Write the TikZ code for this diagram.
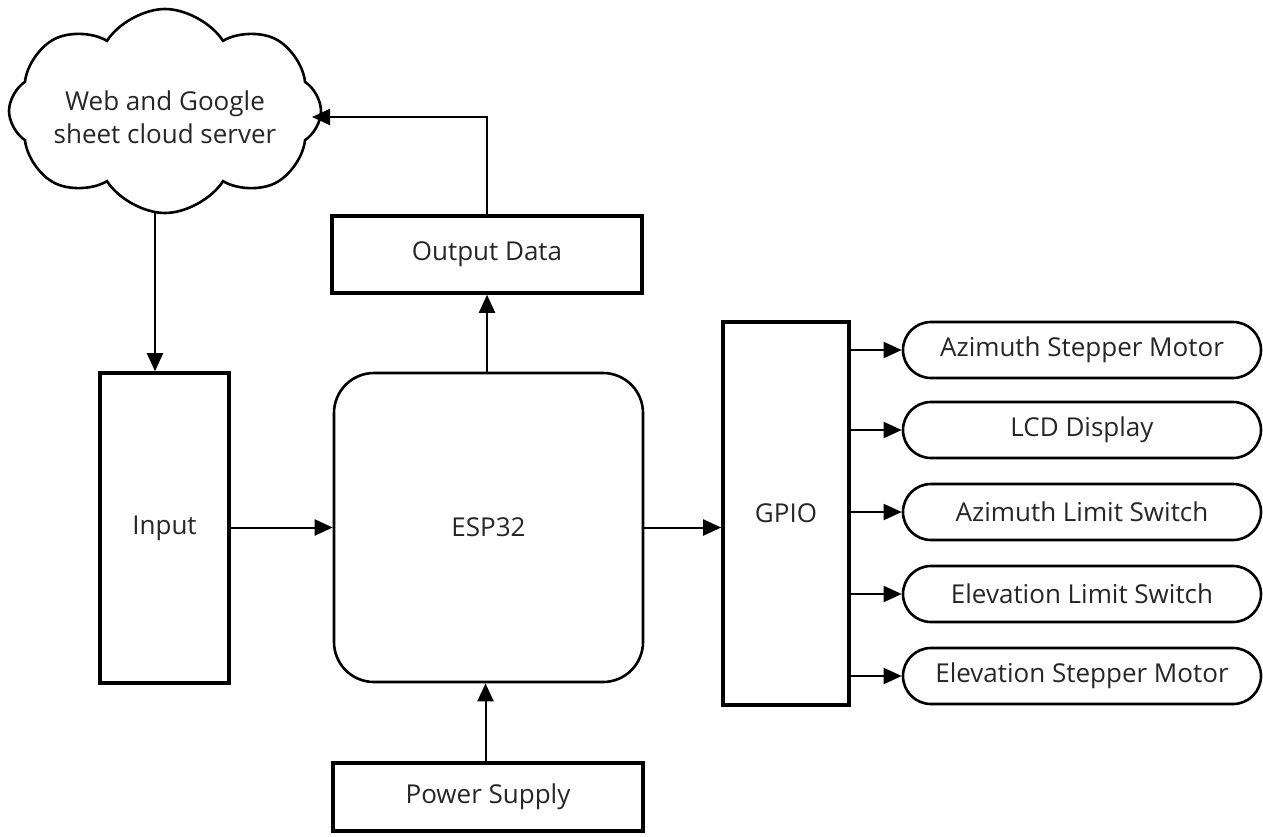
\documentclass[tikz,border=0pt]{standalone}
\usepackage{fontspec}
\setmainfont{Open Sans}
\usetikzlibrary{shapes.symbols,shapes.misc,arrows.meta}
\begin{document}
\begin{tikzpicture}[x=1pt,y=-1pt,
  lbl/.style={font=\fontsize{26}{32}\selectfont, text=black!85},
  sqbox/.style={draw, line width=3.6pt, rectangle, inner sep=0pt, lbl},
  rbox/.style={draw, line width=2.6pt, rectangle, rounded corners=40pt, inner sep=0pt, lbl},
  pill/.style={draw, line width=2.6pt, rounded rectangle, inner sep=0pt, minimum width=358pt, minimum height=56pt, lbl},
  arr/.style={line width=2pt, -{Triangle[length=18pt,width=16pt]}}
]
\useasboundingbox (0,0) rectangle (1263,836);
\node[cloud, draw, line width=2.6pt, cloud puffs=8, cloud puff arc=115, aspect=1.5,
      minimum width=312pt, minimum height=204pt, inner sep=0pt]
  (cloud) at (165,111) {};
\node[lbl, align=center] (ctext) at (165,117) {Web and Google\\[1pt]sheet cloud server};
\node[sqbox, minimum width=129pt, minimum height=310pt] (inp) at (164.5,528) {Input};
\node[rbox, minimum width=309pt, minimum height=309pt] (esp) at (488.5,527.5) {ESP32};
\node[sqbox, minimum width=310pt, minimum height=77pt] (out) at (487,254.5) {Output Data};
\node[sqbox, minimum width=310pt, minimum height=68pt] (pwr) at (488,797) {Power Supply};
\node[sqbox, minimum width=126pt, minimum height=383pt] (gpio) at (786,513.5) {GPIO};
\node[pill] (p1) at (1082,350) {Azimuth Stepper Motor};
\node[pill] (p2) at (1082,430) {LCD Display};
\node[pill] (p3) at (1082,512) {Azimuth Limit Switch};
\node[pill] (p4) at (1082,594) {Elevation Limit Switch};
\node[pill] (p5) at (1082,676) {Elevation Stepper Motor};
\coordinate (c1) at (155,212);
\coordinate (cin) at (312,117);
\draw[arr] (c1) -- (c1 |- inp.north);
\draw[arr] (out.north) |- (cin);
\draw[arr] (esp.north -| out.south) -- (out.south);
\draw[arr] (pwr.north -| esp.south) ++(-3,0) coordinate (pp) -- (pp |- esp.south);
\draw[arr] (inp.east |- esp.west) -- (esp.west);
\draw[arr] (esp.east) -- (esp.east -| gpio.west);
\foreach \p in {p1,p2,p3,p4,p5}{
  \draw[arr] (gpio.east |- \p.west) -- (\p.west);
}
\end{tikzpicture}
\end{document}
